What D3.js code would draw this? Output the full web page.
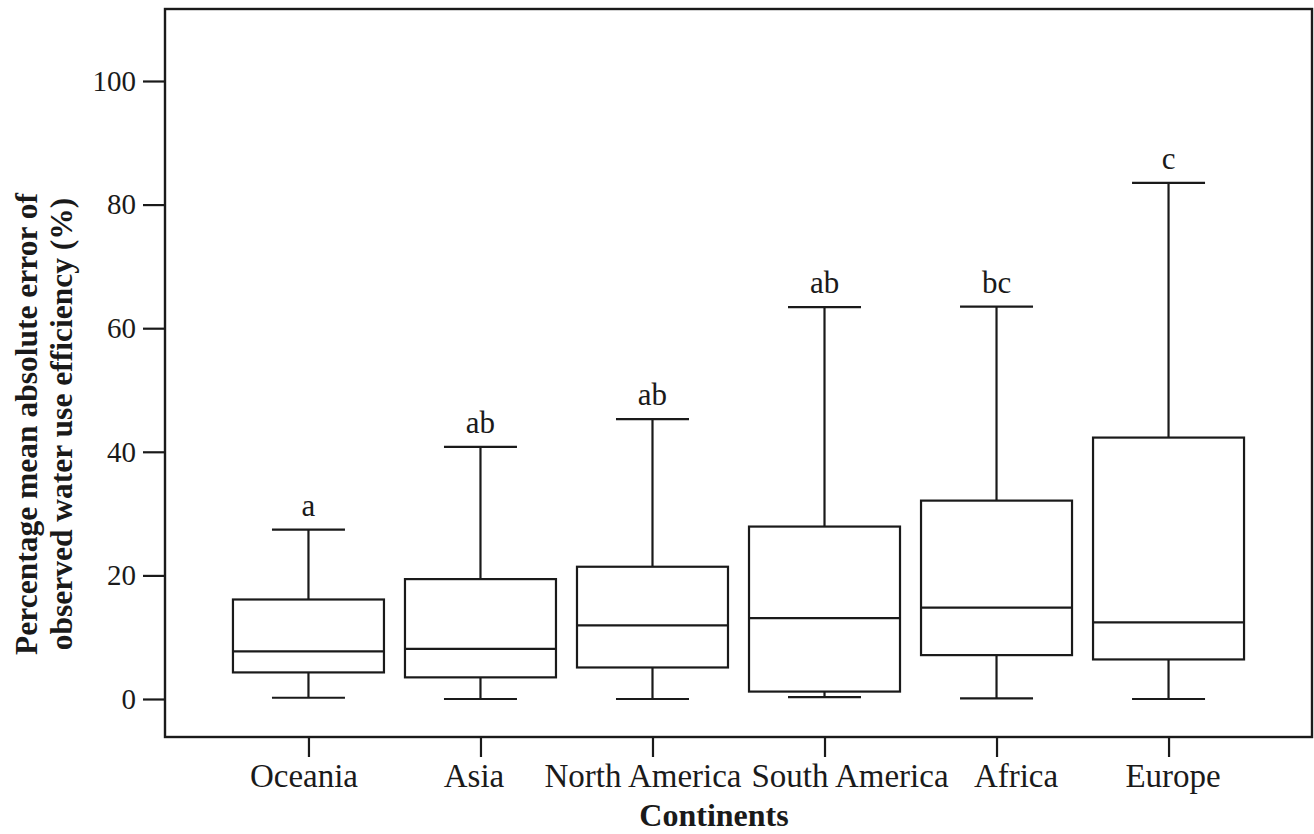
<!DOCTYPE html>
<html>
<head>
<meta charset="utf-8">
<script src="https://cdn.jsdelivr.net/npm/d3@7"></script>
<style>
  html, body { margin: 0; padding: 0; background: #ffffff; }
  svg { display: block; }
  text { font-family: "Liberation Serif", "Times New Roman", serif; fill: #1a1a1a; }
</style>
</head>
<body>
<svg id="chart" width="1314" height="834"></svg>
<script>
const categories = ["Oceania", "Asia", "North America", "South America", "Africa", "Europe"];
const mins    = [0.2, 0, 0, 0.3, 0.1, 0];
const q1s     = [4.3, 3.5, 5.1, 1.2, 7.1, 6.4];
const medians = [7.7, 8.1, 11.9, 13.1, 14.8, 12.4];
const q3s     = [16.1, 19.4, 21.4, 27.9, 32.1, 42.3];
const maxs    = [27.4, 40.8, 45.3, 63.4, 63.5, 83.5];
const letters = ["a", "ab", "ab", "ab", "bc", "c"];
const yTicks  = [0, 20, 40, 60, 80, 100];

(function () {
const svg = d3.select("#chart");
const pLeft = 165, pRight = 1312, pTop = 9, pBottom = 737;
const ink = "#1a1a1a";
// small horizontal nudges of the category labels, as in the original layout
const labelShift = [-5, -7, -10, 25, 19, 4];

const x = d3.scalePoint().domain(categories).range([pLeft, pRight]).padding(0.834);
const y = d3.scaleLinear().domain([-6.15, 111.65]).range([pBottom, pTop]);

const boxW = 151, capW = 73, sw = 2.2;

const data = categories.map((c, i) => ({
  c, min: mins[i], q1: q1s[i], med: medians[i], q3: q3s[i], max: maxs[i], letter: letters[i]
}));

// frame
svg.append("rect")
  .attr("x", pLeft).attr("y", pTop)
  .attr("width", pRight - pLeft).attr("height", pBottom - pTop)
  .attr("fill", "none").attr("stroke", ink).attr("stroke-width", 2.4);

// y axis
const yAxis = svg.append("g")
  .attr("transform", `translate(${pLeft},0)`)
  .call(d3.axisLeft(y).tickValues(yTicks).tickSize(22).tickPadding(7).tickFormat(d3.format("d")));
yAxis.select(".domain").remove();
yAxis.selectAll("line").attr("stroke", ink).attr("stroke-width", 2.2);
yAxis.selectAll("text").attr("font-size", 29).attr("fill", ink)
  .attr("font-family", "Liberation Serif, serif");

// x axis
const xAxis = svg.append("g")
  .attr("transform", `translate(0,${pBottom})`)
  .call(d3.axisBottom(x).tickSize(20).tickPadding(10));
xAxis.select(".domain").remove();
xAxis.selectAll("line").attr("stroke", ink).attr("stroke-width", 2.2);
xAxis.selectAll("text").attr("font-size", 33).attr("fill", ink)
  .attr("font-family", "Liberation Serif, serif")
  .attr("dy", null).attr("y", 50)
  .attr("dx", (d, i) => labelShift[i]);

// boxes
const g = svg.append("g");
const box = g.selectAll("g.box").data(data).join("g").attr("class", "box");

box.append("line")
  .attr("x1", d => x(d.c)).attr("x2", d => x(d.c))
  .attr("y1", d => y(d.q3)).attr("y2", d => y(d.max))
  .attr("stroke", ink).attr("stroke-width", sw);
box.append("line")
  .attr("x1", d => x(d.c)).attr("x2", d => x(d.c))
  .attr("y1", d => y(d.q1)).attr("y2", d => y(d.min))
  .attr("stroke", ink).attr("stroke-width", sw);
box.append("line")
  .attr("x1", d => x(d.c) - capW / 2).attr("x2", d => x(d.c) + capW / 2)
  .attr("y1", d => y(d.max)).attr("y2", d => y(d.max))
  .attr("stroke", ink).attr("stroke-width", sw);
box.append("line")
  .attr("x1", d => x(d.c) - capW / 2).attr("x2", d => x(d.c) + capW / 2)
  .attr("y1", d => y(d.min)).attr("y2", d => y(d.min))
  .attr("stroke", ink).attr("stroke-width", sw);
box.append("rect")
  .attr("x", d => x(d.c) - boxW / 2).attr("width", boxW)
  .attr("y", d => y(d.q3)).attr("height", d => y(d.q1) - y(d.q3))
  .attr("fill", "#ffffff").attr("stroke", ink).attr("stroke-width", sw);
box.append("line")
  .attr("x1", d => x(d.c) - boxW / 2).attr("x2", d => x(d.c) + boxW / 2)
  .attr("y1", d => y(d.med)).attr("y2", d => y(d.med))
  .attr("stroke", ink).attr("stroke-width", sw);
box.append("text")
  .attr("x", d => x(d.c)).attr("y", d => y(d.max) - 14)
  .attr("text-anchor", "middle").attr("font-size", 31)
  .text(d => d.letter);

// x title
svg.append("text")
  .attr("x", 714).attr("y", 826)
  .attr("text-anchor", "middle").attr("font-size", 32).attr("font-weight", "bold")
  .text("Continents");

// y title
const yt = svg.append("text")
  .attr("transform", "translate(37,424) rotate(-90)")
  .attr("text-anchor", "middle").attr("font-size", 31.5).attr("font-weight", "bold");
yt.append("tspan").attr("x", 0).attr("y", 0).text("Percentage mean absolute error of");
yt.append("tspan").attr("x", 0).attr("y", 35).text("observed water use efficiency (%)");
})();
</script>
</body>
</html>
